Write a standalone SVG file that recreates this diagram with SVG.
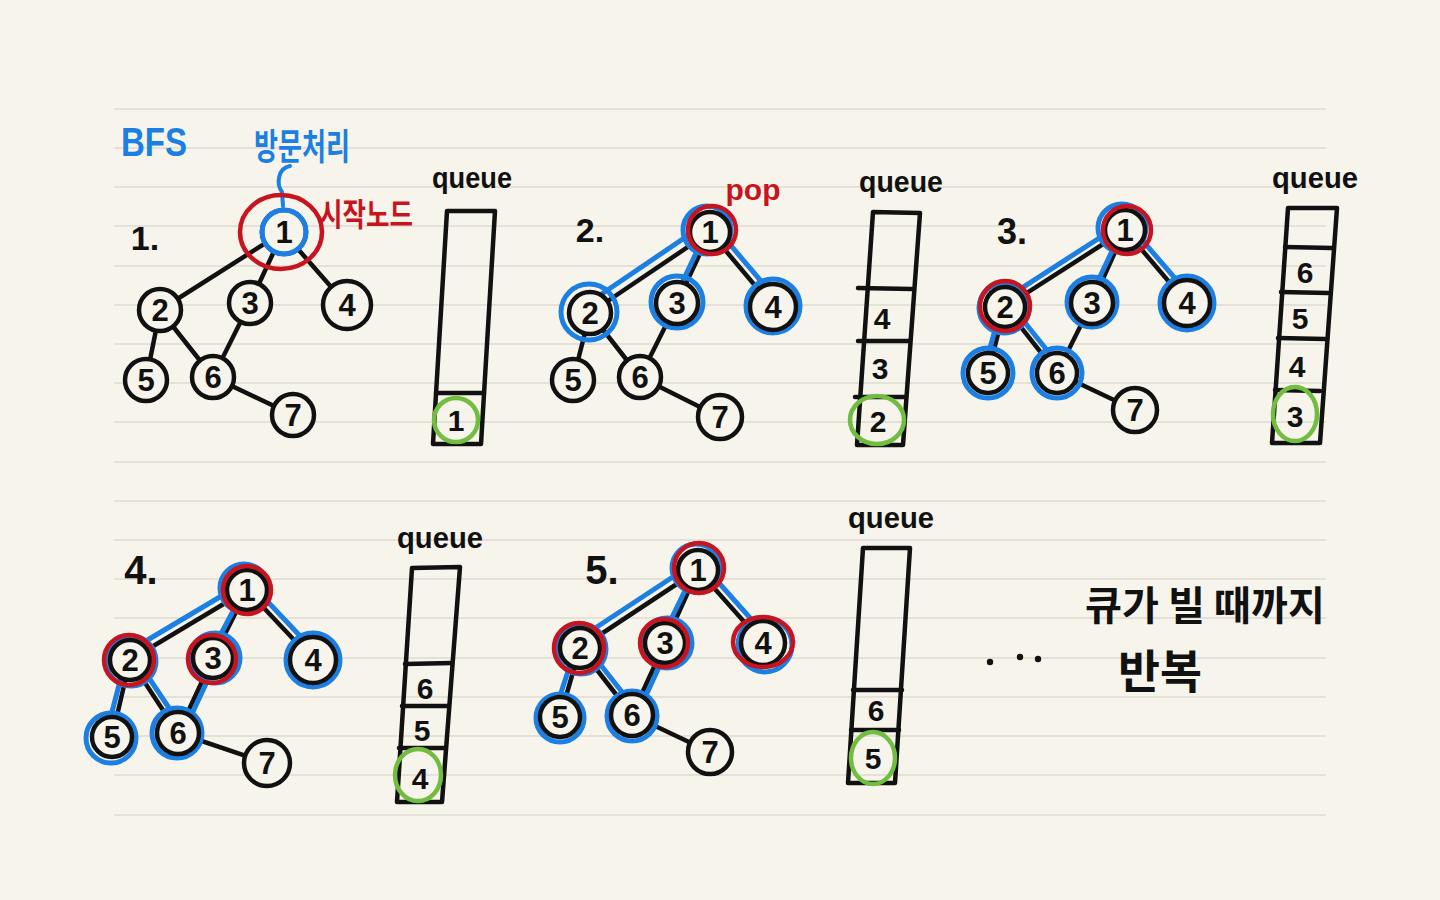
<svg xmlns="http://www.w3.org/2000/svg" width="1440" height="900" viewBox="0 0 1440 900">
<style>
.rule{stroke:#dcdad2;stroke-width:1.5}
.e{stroke:#111;stroke-width:4.5;stroke-linecap:round;fill:none}
.be{stroke:#1b7fe4;stroke-width:5;stroke-linecap:round;fill:none}
.c{fill:#f7f5eb;stroke:#111;stroke-width:4.5}
.bh{fill:none;stroke:#1b7fe4;stroke-width:5}
.rh{fill:none;stroke:#c8141e;stroke-width:4.5}
.gh{fill:none;stroke:#71bd3f;stroke-width:4.5}
.q{fill:none;stroke:#111;stroke-width:4.5;stroke-linejoin:round;stroke-linecap:round}
.t{font-family:"Liberation Sans","Noto Sans CJK KR",sans-serif;font-weight:bold;fill:#111;text-anchor:middle}
.nt{font-size:31px}
.ql{font-size:30px}
.cl{font-size:30px}
</style>
<rect width="1440" height="900" fill="#f7f5eb"/>
<g id="ruled-lines">
<line class="rule" x1="114" y1="109" x2="1326" y2="109"/>
<line class="rule" x1="114" y1="148" x2="1326" y2="148"/>
<line class="rule" x1="114" y1="187" x2="1326" y2="187"/>
<line class="rule" x1="114" y1="226" x2="1326" y2="226"/>
<line class="rule" x1="114" y1="266" x2="1326" y2="266"/>
<line class="rule" x1="114" y1="305" x2="1326" y2="305"/>
<line class="rule" x1="114" y1="344" x2="1326" y2="344"/>
<line class="rule" x1="114" y1="383" x2="1326" y2="383"/>
<line class="rule" x1="114" y1="422" x2="1326" y2="422"/>
<line class="rule" x1="114" y1="462" x2="1326" y2="462"/>
<line class="rule" x1="114" y1="501" x2="1326" y2="501"/>
<line class="rule" x1="114" y1="540" x2="1326" y2="540"/>
<line class="rule" x1="114" y1="579" x2="1326" y2="579"/>
<line class="rule" x1="114" y1="618" x2="1326" y2="618"/>
<line class="rule" x1="114" y1="658" x2="1326" y2="658"/>
<line class="rule" x1="114" y1="697" x2="1326" y2="697"/>
<line class="rule" x1="114" y1="736" x2="1326" y2="736"/>
<line class="rule" x1="114" y1="775" x2="1326" y2="775"/>
<line class="rule" x1="114" y1="815" x2="1326" y2="815"/>
</g>

<!-- Titles and notes -->
<text x="154" y="156" font-family="Liberation Sans,sans-serif" font-weight="bold" font-size="40" fill="#1b7fe4" text-anchor="middle" textLength="66" lengthAdjust="spacingAndGlyphs">BFS</text>
<text x="302" y="160" font-family="'Noto Sans CJK KR',sans-serif" font-weight="bold" font-size="36" fill="#1b7fe4" text-anchor="middle" textLength="96" lengthAdjust="spacingAndGlyphs">방문처리</text>
<path d="M290,166 C278,168 276,184 282,192 L283,206" fill="none" stroke="#1b7fe4" stroke-width="4" stroke-linecap="round"/>
<text x="366" y="226" font-family="'Noto Sans CJK KR',sans-serif" font-weight="bold" font-size="32" fill="#c8141e" text-anchor="middle" textLength="94" lengthAdjust="spacingAndGlyphs">시작노드</text>
<text x="753" y="200" font-family="Liberation Sans,sans-serif" font-weight="bold" font-size="30" fill="#c8141e" text-anchor="middle">pop</text>

<text class="t" x="145" y="250" font-size="34">1.</text>
<text class="t" x="590" y="242" font-size="34">2.</text>
<text class="t" x="1012" y="244" font-size="36">3.</text>
<text class="t" x="141" y="584" font-size="40">4.</text>
<text class="t" x="602" y="584" font-size="40">5.</text>

<!-- ================= PANEL 1 ================= -->
<g id="p1-connectors">
<line class="e" x1="283" y1="232" x2="160" y2="310"/>
<line class="e" x1="283" y1="232" x2="250" y2="303"/>
<line class="e" x1="283" y1="232" x2="347" y2="305"/>
<line class="e" x1="160" y1="310" x2="146" y2="380"/>
<line class="e" x1="160" y1="310" x2="213" y2="377"/>
<line class="e" x1="250" y1="303" x2="213" y2="377"/>
<line class="e" x1="213" y1="377" x2="293" y2="415"/>
</g>
<g id="p1-n1"><circle class="c" cx="284" cy="232" r="22"/><circle class="bh" cx="284" cy="232" r="22"/><text class="t nt" x="284" y="243">1</text><ellipse class="rh" cx="281" cy="232" rx="41" ry="37"/></g>
<g id="p1-n2"><circle class="c" cx="160" cy="310" r="21"/><text class="t nt" x="160" y="321">2</text></g>
<g id="p1-n3"><circle class="c" cx="250" cy="303" r="21"/><text class="t nt" x="250" y="314">3</text></g>
<g id="p1-n4"><circle class="c" cx="347" cy="305" r="24"/><text class="t nt" x="347" y="316">4</text></g>
<g id="p1-n5"><circle class="c" cx="146" cy="380" r="21"/><text class="t nt" x="146" y="391">5</text></g>
<g id="p1-n6"><circle class="c" cx="213" cy="377" r="21"/><text class="t nt" x="213" y="388">6</text></g>
<g id="p1-n7"><circle class="c" cx="293" cy="415" r="21"/><text class="t nt" x="293" y="426">7</text></g>
<g id="p1-queue">
<text class="t ql" x="472" y="188" textLength="80" lengthAdjust="spacingAndGlyphs">queue</text>
<path class="q" d="M447,211 L495,211 L481,444 L433,444 Z"/>
<line class="q" x1="436" y1="393" x2="484" y2="393"/>
<text class="t cl" x="456" y="431">1</text>
<circle class="gh" cx="456" cy="420" r="22"/>
</g>

<!-- ================= PANEL 2 ================= -->
<g id="p2-connectors">
<line class="e" x1="710" y1="232" x2="590" y2="313"/>
<line class="e" x1="710" y1="232" x2="677" y2="303"/>
<line class="e" x1="710" y1="232" x2="773" y2="307"/>
<line class="e" x1="590" y1="313" x2="573" y2="380"/>
<line class="e" x1="590" y1="313" x2="640" y2="377"/>
<line class="e" x1="677" y1="303" x2="640" y2="377"/>
<line class="e" x1="640" y1="377" x2="720" y2="417"/>
<line class="be" x1="702" y1="226" x2="584" y2="306"/>
<line class="be" x1="705" y1="234" x2="674" y2="300"/>
<line class="be" x1="716" y1="228" x2="778" y2="301"/>
</g>
<g id="p2-n1"><circle class="bh" cx="707" cy="230" r="24"/><circle class="c" cx="710" cy="232" r="20"/><text class="t nt" x="710" y="243">1</text><circle class="rh" cx="712" cy="230" r="24"/></g>
<g id="p2-n2"><circle class="bh" cx="589" cy="312" r="28"/><circle class="c" cx="590" cy="313" r="21"/><text class="t nt" x="590" y="324">2</text></g>
<g id="p2-n3"><circle class="bh" cx="677" cy="302" r="26"/><circle class="c" cx="677" cy="303" r="21"/><text class="t nt" x="677" y="314">3</text></g>
<g id="p2-n4"><circle class="bh" cx="773" cy="306" r="27"/><circle class="c" cx="773" cy="307" r="23"/><text class="t nt" x="773" y="318">4</text></g>
<g id="p2-n5"><circle class="c" cx="573" cy="380" r="21"/><text class="t nt" x="573" y="391">5</text></g>
<g id="p2-n6"><circle class="c" cx="640" cy="377" r="21"/><text class="t nt" x="640" y="388">6</text></g>
<g id="p2-n7"><circle class="c" cx="720" cy="417" r="22"/><text class="t nt" x="720" y="428">7</text></g>
<g id="p2-queue">
<text class="t ql" x="901" y="192" textLength="84" lengthAdjust="spacingAndGlyphs">queue</text>
<path class="q" d="M873,212 L920,213 L903,445 L857,445 Z"/>
<line class="q" x1="858" y1="288" x2="912" y2="289"/>
<line class="q" x1="858" y1="341" x2="910" y2="341"/>
<line class="q" x1="855" y1="397" x2="906" y2="397"/>
<text class="t cl" x="882" y="329">4</text>
<text class="t cl" x="880" y="379">3</text>
<text class="t cl" x="878" y="432">2</text>
<ellipse class="gh" cx="877" cy="420" rx="27" ry="24"/>
</g>

<!-- ================= PANEL 3 ================= -->
<g id="p3-connectors">
<line class="e" x1="1125" y1="230" x2="1005" y2="307"/>
<line class="e" x1="1125" y1="230" x2="1092" y2="303"/>
<line class="e" x1="1125" y1="230" x2="1187" y2="303"/>
<line class="e" x1="1005" y1="307" x2="988" y2="373"/>
<line class="e" x1="1005" y1="307" x2="1057" y2="373"/>
<line class="e" x1="1092" y1="303" x2="1057" y2="373"/>
<line class="e" x1="1057" y1="373" x2="1135" y2="410"/>
<line class="be" x1="1118" y1="226" x2="1000" y2="302"/>
<line class="be" x1="1121" y1="232" x2="1089" y2="300"/>
<line class="be" x1="1130" y1="226" x2="1192" y2="298"/>
<line class="be" x1="1001" y1="308" x2="984" y2="370"/>
<line class="be" x1="1010" y1="304" x2="1062" y2="369"/>
</g>
<g id="p3-n1"><circle class="bh" cx="1122" cy="228" r="24"/><circle class="c" cx="1125" cy="230" r="20"/><text class="t nt" x="1125" y="241">1</text><circle class="rh" cx="1127" cy="230" r="24"/></g>
<g id="p3-n2"><circle class="bh" cx="1004" cy="308" r="25"/><circle class="c" cx="1005" cy="307" r="20"/><text class="t nt" x="1005" y="318">2</text><circle class="rh" cx="1005" cy="306" r="25"/></g>
<g id="p3-n3"><circle class="bh" cx="1092" cy="302" r="25"/><circle class="c" cx="1092" cy="303" r="21"/><text class="t nt" x="1092" y="314">3</text></g>
<g id="p3-n4"><circle class="bh" cx="1187" cy="303" r="27"/><circle class="c" cx="1187" cy="303" r="23"/><text class="t nt" x="1187" y="314">4</text></g>
<g id="p3-n5"><circle class="bh" cx="988" cy="373" r="25"/><circle class="c" cx="988" cy="373" r="20"/><text class="t nt" x="988" y="384">5</text></g>
<g id="p3-n6"><circle class="bh" cx="1057" cy="373" r="25"/><circle class="c" cx="1057" cy="373" r="20"/><text class="t nt" x="1057" y="384">6</text></g>
<g id="p3-n7"><circle class="c" cx="1135" cy="410" r="22"/><text class="t nt" x="1135" y="421">7</text></g>
<g id="p3-queue">
<text class="t ql" x="1315" y="188" textLength="86" lengthAdjust="spacingAndGlyphs">queue</text>
<path class="q" d="M1288,208 L1337,208 L1320,443 L1272,443 Z"/>
<line class="q" x1="1285" y1="247" x2="1332" y2="248"/>
<line class="q" x1="1281" y1="292" x2="1328" y2="293"/>
<line class="q" x1="1278" y1="338" x2="1325" y2="339"/>
<line class="q" x1="1275" y1="390" x2="1320" y2="391"/>
<text class="t cl" x="1305" y="283">6</text>
<text class="t cl" x="1300" y="329">5</text>
<text class="t cl" x="1297" y="377">4</text>
<text class="t cl" x="1295" y="427">3</text>
<ellipse class="gh" cx="1295" cy="414" rx="22" ry="27"/>
</g>

<!-- ================= PANEL 4 ================= -->
<g id="p4-connectors">
<line class="e" x1="247" y1="590" x2="130" y2="660"/>
<line class="e" x1="247" y1="590" x2="213" y2="658"/>
<line class="e" x1="247" y1="590" x2="313" y2="660"/>
<line class="e" x1="130" y1="660" x2="112" y2="737"/>
<line class="e" x1="130" y1="660" x2="178" y2="733"/>
<line class="e" x1="213" y1="658" x2="178" y2="733"/>
<line class="e" x1="178" y1="733" x2="267" y2="763"/>
<line class="be" x1="240" y1="585" x2="124" y2="654"/>
<line class="be" x1="243" y1="592" x2="210" y2="655"/>
<line class="be" x1="252" y1="585" x2="318" y2="655"/>
<line class="be" x1="125" y1="662" x2="106" y2="735"/>
<line class="be" x1="135" y1="657" x2="183" y2="729"/>
<line class="be" x1="218" y1="658" x2="184" y2="731"/>
</g>
<g id="p4-n1"><circle class="bh" cx="244" cy="588" r="24"/><circle class="c" cx="247" cy="590" r="20"/><text class="t nt" x="247" y="601">1</text><circle class="rh" cx="247" cy="590" r="24"/></g>
<g id="p4-n2"><circle class="bh" cx="131" cy="661" r="25"/><circle class="c" cx="130" cy="660" r="20"/><text class="t nt" x="130" y="671">2</text><circle class="rh" cx="129" cy="660" r="25"/></g>
<g id="p4-n3"><circle class="bh" cx="215" cy="658" r="25"/><circle class="c" cx="213" cy="658" r="20"/><text class="t nt" x="213" y="669">3</text><circle class="rh" cx="212" cy="659" r="24"/></g>
<g id="p4-n4"><circle class="bh" cx="313" cy="660" r="27"/><circle class="c" cx="313" cy="660" r="23"/><text class="t nt" x="313" y="671">4</text></g>
<g id="p4-n5"><circle class="bh" cx="111" cy="738" r="25"/><circle class="c" cx="112" cy="737" r="20"/><text class="t nt" x="112" y="748">5</text></g>
<g id="p4-n6"><circle class="bh" cx="177" cy="733" r="25"/><circle class="c" cx="178" cy="733" r="21"/><text class="t nt" x="178" y="744">6</text></g>
<g id="p4-n7"><circle class="c" cx="267" cy="763" r="23"/><text class="t nt" x="267" y="774">7</text></g>
<g id="p4-queue">
<text class="t ql" x="440" y="548" textLength="86" lengthAdjust="spacingAndGlyphs">queue</text>
<path class="q" d="M412,568 L460,567 L442,802 L397,802 Z"/>
<line class="q" x1="405" y1="664" x2="452" y2="663"/>
<line class="q" x1="402" y1="706" x2="448" y2="706"/>
<line class="q" x1="399" y1="748" x2="444" y2="748"/>
<text class="t cl" x="425" y="699">6</text>
<text class="t cl" x="422" y="741">5</text>
<text class="t cl" x="420" y="789">4</text>
<ellipse class="gh" cx="418" cy="775" rx="23" ry="26"/>
</g>

<!-- ================= PANEL 5 ================= -->
<g id="p5-connectors">
<line class="e" x1="698" y1="570" x2="580" y2="648"/>
<line class="e" x1="698" y1="570" x2="665" y2="643"/>
<line class="e" x1="698" y1="570" x2="763" y2="643"/>
<line class="e" x1="580" y1="648" x2="560" y2="717"/>
<line class="e" x1="580" y1="648" x2="632" y2="715"/>
<line class="e" x1="665" y1="643" x2="632" y2="715"/>
<line class="e" x1="632" y1="715" x2="710" y2="752"/>
<line class="be" x1="691" y1="565" x2="574" y2="642"/>
<line class="be" x1="694" y1="572" x2="661" y2="640"/>
<line class="be" x1="703" y1="565" x2="768" y2="638"/>
<line class="be" x1="575" y1="650" x2="554" y2="714"/>
<line class="be" x1="585" y1="645" x2="637" y2="711"/>
<line class="be" x1="670" y1="643" x2="638" y2="713"/>
</g>
<g id="p5-n1"><circle class="bh" cx="696" cy="568" r="24"/><circle class="c" cx="698" cy="570" r="20"/><text class="t nt" x="698" y="581">1</text><circle class="rh" cx="699" cy="568" r="25"/></g>
<g id="p5-n2"><circle class="bh" cx="581" cy="649" r="25"/><circle class="c" cx="580" cy="648" r="20"/><text class="t nt" x="580" y="659">2</text><circle class="rh" cx="579" cy="648" r="25"/></g>
<g id="p5-n3"><circle class="bh" cx="667" cy="643" r="25"/><circle class="c" cx="665" cy="643" r="20"/><text class="t nt" x="665" y="654">3</text><circle class="rh" cx="664" cy="643" r="24"/></g>
<g id="p5-n4"><circle class="bh" cx="765" cy="645" r="27"/><circle class="c" cx="763" cy="643" r="22"/><text class="t nt" x="763" y="654">4</text><ellipse class="rh" cx="763" cy="642" rx="30" ry="25"/></g>
<g id="p5-n5"><circle class="bh" cx="560" cy="718" r="24"/><circle class="c" cx="560" cy="717" r="20"/><text class="t nt" x="560" y="728">5</text></g>
<g id="p5-n6"><circle class="bh" cx="632" cy="716" r="25"/><circle class="c" cx="632" cy="715" r="21"/><text class="t nt" x="632" y="726">6</text></g>
<g id="p5-n7"><circle class="c" cx="710" cy="752" r="22"/><text class="t nt" x="710" y="763">7</text></g>
<g id="p5-queue">
<text class="t ql" x="891" y="528" textLength="86" lengthAdjust="spacingAndGlyphs">queue</text>
<path class="q" d="M863,548 L910,548 L895,783 L848,783 Z"/>
<line class="q" x1="853" y1="690" x2="902" y2="690"/>
<line class="q" x1="851" y1="730" x2="899" y2="730"/>
<text class="t cl" x="876" y="721">6</text>
<text class="t cl" x="873" y="769">5</text>
<ellipse class="gh" cx="873" cy="758" rx="22" ry="26"/>
</g>

<!-- Ellipsis and note -->
<g id="ellipsis" fill="#111">
<circle cx="990" cy="662" r="3.2"/>
<circle cx="1020" cy="657" r="3.2"/>
<circle cx="1038" cy="659" r="3.2"/>
</g>
<text x="1205" y="620" font-family="'Noto Sans CJK KR',sans-serif" font-weight="bold" font-size="40" fill="#111" text-anchor="middle" textLength="240" lengthAdjust="spacingAndGlyphs">큐가 빌 때까지</text>
<text x="1160" y="688" font-family="'Noto Sans CJK KR',sans-serif" font-weight="bold" font-size="46" fill="#111" text-anchor="middle" textLength="84" lengthAdjust="spacingAndGlyphs">반복</text>
</svg>
